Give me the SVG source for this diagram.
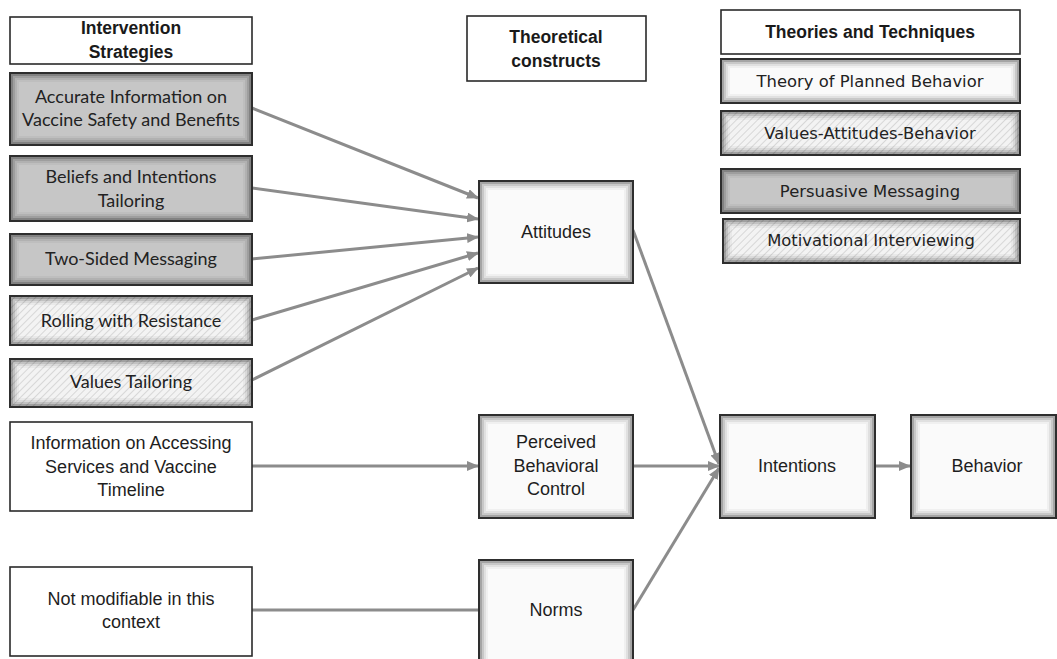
<svg xmlns="http://www.w3.org/2000/svg" width="1057" height="659" viewBox="0 0 1057 659">
<defs>
<style>
.hdr{fill:#fff;stroke:#2a2a2a;stroke-width:1.6}
.hdrt{font-family:"Liberation Sans",Arial,sans-serif;font-weight:bold;font-size:17.5px;fill:#1a1a1a;text-anchor:middle}
.gray{fill:#c6c6c6;stroke:#2e2e2e;stroke-width:2}
.hatch{fill:url(#hp);stroke:#2e2e2e;stroke-width:2}
.white{fill:#fafafa;stroke:#2e2e2e;stroke-width:2}
.plain{fill:#fff;stroke:#2a2a2a;stroke-width:1.6}
.v1{fill:none;stroke:#000;stroke-opacity:.34;stroke-width:2}
.v2{fill:none;stroke:#000;stroke-opacity:.2;stroke-width:2}
.v3{fill:none;stroke:#000;stroke-opacity:.1;stroke-width:2}
.v4{fill:none;stroke:#000;stroke-opacity:.04;stroke-width:2}
.cal{font-family:Lato,"Open Sans",sans-serif;font-size:18px;fill:#222;text-anchor:middle}
.fr{font-family:"Liberation Sans",Arial,sans-serif;font-size:18px;fill:#1e1e1e;text-anchor:middle}
.vd{font-family:"DejaVu Sans",Verdana,sans-serif;font-size:16.4px;fill:#222;text-anchor:middle}
.cn{fill:none;stroke:#8c8c8c;stroke-width:3}
</style>
<pattern id="hp" patternUnits="userSpaceOnUse" width="5" height="5" patternTransform="rotate(45)">
<rect width="5" height="5" fill="#f3f3f3"/>
<line x1="0" y1="0" x2="0" y2="5" stroke="#d0d0d0" stroke-width="1.6"/>
</pattern>
<marker id="ah" markerUnits="userSpaceOnUse" markerWidth="12" markerHeight="10" refX="11" refY="5" orient="auto">
<path d="M0,0 L12,5 L0,10 Z" fill="#8c8c8c"/>
</marker>
</defs>

<g id="connectors">
<line class="cn" x1="252" y1="108" x2="478" y2="198" marker-end="url(#ah)"/>
<line class="cn" x1="252" y1="188" x2="478" y2="219" marker-end="url(#ah)"/>
<line class="cn" x1="252" y1="259" x2="478" y2="237" marker-end="url(#ah)"/>
<line class="cn" x1="252" y1="320" x2="478" y2="253" marker-end="url(#ah)"/>
<line class="cn" x1="252" y1="380" x2="478" y2="268" marker-end="url(#ah)"/>
<line class="cn" x1="252" y1="466" x2="478" y2="466" marker-end="url(#ah)"/>
<line class="cn" x1="252" y1="610" x2="479" y2="610"/>
<line class="cn" x1="633" y1="230" x2="719" y2="464" marker-end="url(#ah)"/>
<line class="cn" x1="633" y1="466" x2="719" y2="466" marker-end="url(#ah)"/>
<line class="cn" x1="633" y1="610" x2="719" y2="468" marker-end="url(#ah)"/>
<line class="cn" x1="875" y1="466" x2="910" y2="466" marker-end="url(#ah)"/>
</g>

<g id="hdr-intervention">
<rect class="hdr" x="10" y="17" width="242" height="47"/>
<text class="hdrt" x="131" y="34">Intervention</text>
<text class="hdrt" x="131" y="58">Strategies</text>
</g>
<g id="hdr-constructs">
<rect class="hdr" x="467" y="16" width="179" height="65"/>
<text class="hdrt" x="556" y="43">Theoretical</text>
<text class="hdrt" x="556" y="67">constructs</text>
</g>
<g id="hdr-theories">
<rect class="hdr" x="721" y="10" width="299" height="44"/>
<text class="hdrt" x="870" y="38">Theories and Techniques</text>
</g>

<g id="n-accurate">
<rect class="gray" x="10" y="73" width="242" height="72"/>
<rect class="v1" x="12" y="75" width="238" height="68"/><rect class="v2" x="14" y="77" width="234" height="64"/><rect class="v3" x="16" y="79" width="230" height="60"/><rect class="v4" x="18" y="81" width="226" height="56"/>
<text class="cal" x="131" y="103">Accurate Information on</text>
<text class="cal" x="131" y="126">Vaccine Safety and Benefits</text>
</g>
<g id="n-beliefs">
<rect class="gray" x="10" y="156" width="242" height="65"/>
<rect class="v1" x="12" y="158" width="238" height="61"/><rect class="v2" x="14" y="160" width="234" height="57"/><rect class="v3" x="16" y="162" width="230" height="53"/><rect class="v4" x="18" y="164" width="226" height="49"/>
<text class="cal" x="131" y="183">Beliefs and Intentions</text>
<text class="cal" x="131" y="207">Tailoring</text>
</g>
<g id="n-twosided">
<rect class="gray" x="10" y="234" width="242" height="51"/>
<rect class="v1" x="12" y="236" width="238" height="47"/><rect class="v2" x="14" y="238" width="234" height="43"/><rect class="v3" x="16" y="240" width="230" height="39"/><rect class="v4" x="18" y="242" width="226" height="35"/>
<text class="cal" x="131" y="265">Two-Sided Messaging</text>
</g>
<g id="n-rolling">
<rect class="hatch" x="10" y="296" width="242" height="49"/>
<rect class="v1" x="12" y="298" width="238" height="45"/><rect class="v2" x="14" y="300" width="234" height="41"/><rect class="v3" x="16" y="302" width="230" height="37"/><rect class="v4" x="18" y="304" width="226" height="33"/>
<text class="cal" x="131" y="327">Rolling with Resistance</text>
</g>
<g id="n-values">
<rect class="hatch" x="10" y="359" width="242" height="48"/>
<rect class="v1" x="12" y="361" width="238" height="44"/><rect class="v2" x="14" y="363" width="234" height="40"/><rect class="v3" x="16" y="365" width="230" height="36"/><rect class="v4" x="18" y="367" width="226" height="32"/>
<text class="cal" x="131" y="388">Values Tailoring</text>
</g>
<g id="n-info">
<rect class="plain" x="10" y="422" width="242" height="89"/>
<text class="fr" x="131" y="449">Information on Accessing</text>
<text class="fr" x="131" y="473">Services and Vaccine</text>
<text class="fr" x="131" y="496">Timeline</text>
</g>
<g id="n-notmod">
<rect class="plain" x="10" y="567" width="242" height="89"/>
<text class="fr" x="131" y="605">Not modifiable in this</text>
<text class="fr" x="131" y="628">context</text>
</g>

<g id="n-attitudes">
<rect class="white" x="479" y="181" width="154" height="102"/>
<rect class="v1" x="481" y="183" width="150" height="98"/><rect class="v2" x="483" y="185" width="146" height="94"/><rect class="v3" x="485" y="187" width="142" height="90"/><rect class="v4" x="487" y="189" width="138" height="86"/>
<text class="fr" x="556" y="238">Attitudes</text>
</g>
<g id="n-pbc">
<rect class="white" x="479" y="415" width="154" height="103"/>
<rect class="v1" x="481" y="417" width="150" height="99"/><rect class="v2" x="483" y="419" width="146" height="95"/><rect class="v3" x="485" y="421" width="142" height="91"/><rect class="v4" x="487" y="423" width="138" height="87"/>
<text class="fr" x="556" y="448">Perceived</text>
<text class="fr" x="556" y="472">Behavioral</text>
<text class="fr" x="556" y="495">Control</text>
</g>
<g id="n-norms">
<rect class="white" x="479" y="560" width="154" height="110"/>
<rect class="v1" x="481" y="562" width="150" height="106"/><rect class="v2" x="483" y="564" width="146" height="102"/><rect class="v3" x="485" y="566" width="142" height="98"/><rect class="v4" x="487" y="568" width="138" height="94"/>
<text class="fr" x="556" y="616">Norms</text>
</g>
<g id="n-intentions">
<rect class="white" x="720" y="415" width="155" height="103"/>
<rect class="v1" x="722" y="417" width="151" height="99"/><rect class="v2" x="724" y="419" width="147" height="95"/><rect class="v3" x="726" y="421" width="143" height="91"/><rect class="v4" x="728" y="423" width="139" height="87"/>
<text class="fr" x="797" y="472">Intentions</text>
</g>
<g id="n-behavior">
<rect class="white" x="911" y="415" width="145" height="103"/>
<rect class="v1" x="913" y="417" width="141" height="99"/><rect class="v2" x="915" y="419" width="137" height="95"/><rect class="v3" x="917" y="421" width="133" height="91"/><rect class="v4" x="919" y="423" width="129" height="87"/>
<text class="fr" x="987" y="472">Behavior</text>
</g>

<g id="t-tpb">
<rect class="white" x="721" y="59" width="299" height="44"/>
<rect class="v1" x="723" y="61" width="295" height="40"/><rect class="v2" x="725" y="63" width="291" height="36"/><rect class="v3" x="727" y="65" width="287" height="32"/><rect class="v4" x="729" y="67" width="283" height="28"/>
<text class="vd" x="870" y="87">Theory of Planned Behavior</text>
</g>
<g id="t-vab">
<rect class="hatch" x="721" y="111" width="299" height="44"/>
<rect class="v1" x="723" y="113" width="295" height="40"/><rect class="v2" x="725" y="115" width="291" height="36"/><rect class="v3" x="727" y="117" width="287" height="32"/><rect class="v4" x="729" y="119" width="283" height="28"/>
<text class="vd" x="870" y="139">Values-Attitudes-Behavior</text>
</g>
<g id="t-persuasive">
<rect class="gray" x="721" y="169" width="299" height="44"/>
<rect class="v1" x="723" y="171" width="295" height="40"/><rect class="v2" x="725" y="173" width="291" height="36"/><rect class="v3" x="727" y="175" width="287" height="32"/><rect class="v4" x="729" y="177" width="283" height="28"/>
<text class="vd" x="870" y="197">Persuasive Messaging</text>
</g>
<g id="t-motivational">
<rect class="hatch" x="723" y="219" width="297" height="44"/>
<rect class="v1" x="725" y="221" width="293" height="40"/><rect class="v2" x="727" y="223" width="289" height="36"/><rect class="v3" x="729" y="225" width="285" height="32"/><rect class="v4" x="731" y="227" width="281" height="28"/>
<text class="vd" x="871" y="246">Motivational Interviewing</text>
</g>
</svg>
